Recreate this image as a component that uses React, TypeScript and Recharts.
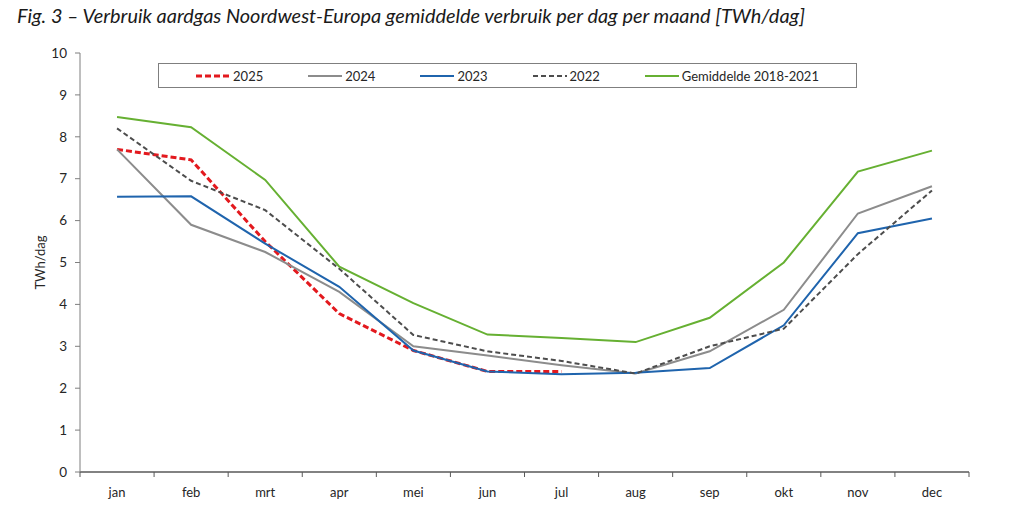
import { LineChart, Line, XAxis, YAxis } from 'recharts'

const months = ['jan', 'feb', 'mrt', 'apr', 'mei', 'jun', 'jul', 'aug', 'sep', 'okt', 'nov', 'dec']
const y2025 = [7.7, 7.45, 5.5, 3.78, 2.9, 2.4, 2.4, null, null, null, null, null]
const y2024 = [7.7, 5.9, 5.25, 4.3, 3.0, 2.78, 2.55, 2.35, 2.88, 3.87, 6.17, 6.82]
const y2023 = [6.57, 6.58, 5.45, 4.42, 2.9, 2.4, 2.33, 2.37, 2.48, 3.5, 5.7, 6.05]
const y2022 = [8.2, 6.95, 6.25, 4.85, 3.27, 2.88, 2.65, 2.35, 3.0, 3.42, 5.2, 6.72]
const avg1821 = [8.47, 8.23, 6.97, 4.9, 4.03, 3.28, 3.2, 3.1, 3.68, 5.0, 7.17, 7.67]
const yTicks = [0, 1, 2, 3, 4, 5, 6, 7, 8, 9, 10]

const data = months.map((m, i) => ({
  month: m,
  y2025: y2025[i],
  y2024: y2024[i],
  y2023: y2023[i],
  y2022: y2022[i],
  avg: avg1821[i]
}))

const series = [
  { key: 'y2025', name: '2025', color: '#e3191e', width: 3, dash: '6 3' },
  { key: 'y2024', name: '2024', color: '#8c8c8c', width: 2, dash: undefined },
  { key: 'y2023', name: '2023', color: '#1f64ad', width: 2, dash: undefined },
  { key: 'y2022', name: '2022', color: '#4d4d4d', width: 2, dash: '5 3' },
  { key: 'avg', name: 'Gemiddelde 2018-2021', color: '#66b032', width: 2, dash: undefined }
]

const FONT = 'Lato, "Open Sans", sans-serif'
const PLOT_LEFT = 80
const PLOT_RIGHT = 969
const HALF = (PLOT_RIGHT - PLOT_LEFT) / months.length / 2

const MonthTick = (props: any) => {
  const { x, y, payload, index } = props
  const last = index === months.length - 1
  return (
    <g>
      <line x1={x - HALF} x2={x - HALF} y1={y - 8} y2={y - 3} stroke='#595959' strokeWidth={1} />
      {last && <line x1={x + HALF} x2={x + HALF} y1={y - 8} y2={y - 3} stroke='#595959' strokeWidth={1} />}
      <text x={x} y={y + 17} textAnchor='middle' fill='#262626' fontSize={13} fontFamily={FONT}>
        {payload.value}
      </text>
    </g>
  )
}

const LegendBox = () => (
  <div
    style={{
      position: 'absolute',
      left: 158,
      top: 63,
      width: 699,
      height: 25,
      border: '1px solid #7f7f7f',
      background: '#fff',
      display: 'flex',
      alignItems: 'center',
      justifyContent: 'center',
      gap: 45,
      fontFamily: FONT,
      fontSize: 13,
      color: '#262626',
      boxSizing: 'border-box'
    }}
  >
    {series.map((s) => (
      <div key={s.key} style={{ display: 'flex', alignItems: 'center', gap: 3 }}>
        <svg width={34} height={6}>
          <line x1={0} x2={34} y1={3} y2={3} stroke={s.color} strokeWidth={s.width} strokeDasharray={s.dash} />
        </svg>
        <span>{s.name}</span>
      </div>
    ))}
  </div>
)

export default function App() {
  return (
    <div style={{ position: 'fixed', left: 0, top: 0, width: 1024, height: 517, background: '#fff' }}>
      <div
        style={{
          position: 'absolute',
          left: 17,
          top: 6,
          fontFamily: FONT,
          fontStyle: 'italic',
          fontSize: 19.9,
          lineHeight: 1,
          color: '#1a1a1a',
          whiteSpace: 'nowrap'
        }}
      >
        Fig. 3 – Verbruik aardgas Noordwest-Europa gemiddelde verbruik per dag per maand [TWh/dag]
      </div>
      <LineChart
        width={1024}
        height={517}
        data={data}
        margin={{ top: 53, right: 1024 - PLOT_RIGHT, bottom: 0, left: 0 }}
        style={{ position: 'absolute', left: 0, top: 0 }}
      >
        <XAxis
          xAxisId='top'
          orientation='top'
          dataKey='month'
          height={0}
          tick={false}
          tickLine={false}
          axisLine={{ stroke: '#a6a6a6' }}
          padding={{ left: HALF, right: HALF }}
        />
        <YAxis
          yAxisId='right'
          orientation='right'
          width={0}
          domain={[0, 10]}
          tick={false}
          tickLine={false}
          axisLine={{ stroke: '#a6a6a6' }}
        />
        <XAxis
          dataKey='month'
          height={45}
          padding={{ left: HALF, right: HALF }}
          tickLine={false}
          axisLine={{ stroke: '#595959', strokeWidth: 1.5 }}
          tick={<MonthTick />}
          interval={0}
        />
        <YAxis
          width={PLOT_LEFT}
          domain={[0, 10]}
          ticks={yTicks}
          interval={0}
          tickSize={5}
          tickMargin={8}
          axisLine={{ stroke: '#7f7f7f' }}
          tickLine={{ stroke: '#7f7f7f' }}
          tick={{ fill: '#262626', fontSize: 13.5, fontFamily: FONT }}
          label={{
            value: 'TWh/dag',
            angle: -90,
            position: 'insideLeft',
            offset: 40,
            style: { textAnchor: 'middle', fill: '#262626', fontSize: 13, fontFamily: FONT }
          }}
        />
        {series.map((s) => (
          <Line
            key={s.key}
            dataKey={s.key}
            name={s.name}
            stroke={s.color}
            strokeWidth={s.width}
            strokeDasharray={s.dash}
            dot={false}
            activeDot={false}
            connectNulls={false}
            isAnimationActive={false}
          />
        ))}
      </LineChart>
      <LegendBox />
    </div>
  )
}
